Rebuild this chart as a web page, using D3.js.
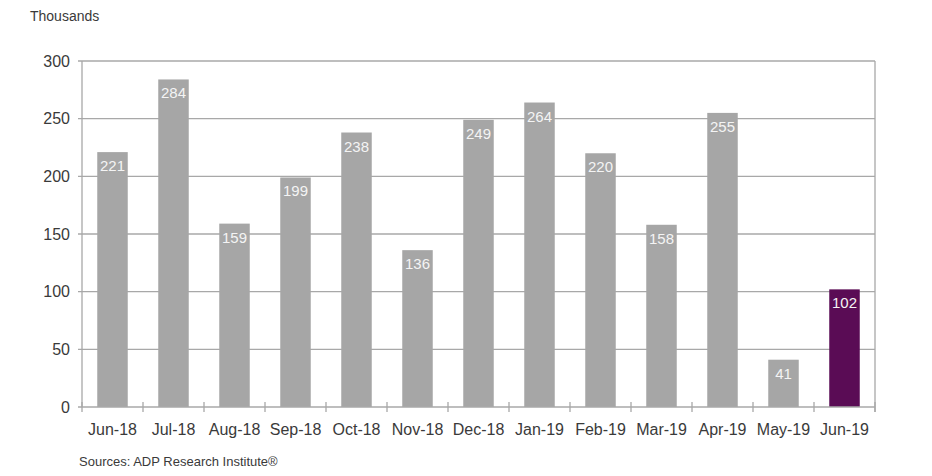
<!DOCTYPE html>
<html><head><meta charset="utf-8">
<script src="https://cdn.jsdelivr.net/npm/d3@7"></script>
<style>body{margin:0;background:#fff}svg{display:block;font-family:"Liberation Sans",Arial,sans-serif}</style>
</head><body><svg id="c" width="932" height="476"></svg>
<script>
const categories = ["Jun-18","Jul-18","Aug-18","Sep-18","Oct-18","Nov-18","Dec-18","Jan-19","Feb-19","Mar-19","Apr-19","May-19","Jun-19"];
const values = [221,284,159,199,238,136,249,264,220,158,255,41,102];
const yTicks = [0,50,100,150,200,250,300];

const svg = d3.select("#c");
const L = 82, R = 875, T = 61, B = 407;
const x = d3.scaleBand().domain(categories).range([L, R]).paddingInner(0.5).paddingOuter(0.25);
const y = d3.scaleLinear().domain([0, 300]).range([B, T]);
const gridC = "#a8a8a8", textC = "#3a3a3a";

// gridlines
svg.append("g").selectAll("line").data(yTicks.filter(d => d > 0)).join("line")
  .attr("x1", L - 4).attr("x2", R).attr("y1", d => y(d)).attr("y2", d => y(d))
  .attr("stroke", gridC).attr("stroke-width", 1.3);
// left axis line + ticks
svg.append("line").attr("x1", L).attr("x2", L).attr("y1", T).attr("y2", B).attr("stroke", gridC).attr("stroke-width", 1.3);
svg.append("line").attr("x1", R).attr("x2", R).attr("y1", T).attr("y2", B + 5).attr("stroke", gridC).attr("stroke-width", 1.3);
svg.append("g").selectAll("text").data(yTicks).join("text")
  .attr("x", 70).attr("y", d => y(d)).attr("dy", "0.35em").attr("text-anchor", "end")
  .attr("font-size", 16).attr("fill", textC).text(d => d);

// bars
svg.append("g").selectAll("rect").data(values).join("rect")
  .attr("x", (d, i) => x(categories[i])).attr("width", x.bandwidth())
  .attr("y", d => y(d)).attr("height", d => B - y(d))
  .attr("fill", (d, i) => i === values.length - 1 ? "#5a0c55" : "#a6a6a6");
svg.append("g").selectAll("text").data(values).join("text")
  .attr("x", (d, i) => x(categories[i]) + x.bandwidth() / 2).attr("y", d => y(d) + 19)
  .attr("text-anchor", "middle").attr("font-size", 15).attr("fill", "#f4f4f4").text(d => d);

// x axis
svg.append("line").attr("x1", L - 4).attr("x2", R).attr("y1", B).attr("y2", B).attr("stroke", gridC).attr("stroke-width", 1.3);
const step = x.step();
svg.append("g").selectAll("line").data(d3.range(categories.length + 1)).join("line")
  .attr("x1", i => L + i * step).attr("x2", i => L + i * step).attr("y1", B - 5).attr("y2", B + 5)
  .attr("stroke", gridC).attr("stroke-width", 1.3);
svg.append("g").selectAll("text").data(categories).join("text")
  .attr("x", d => x(d) + x.bandwidth() / 2).attr("y", 435).attr("text-anchor", "middle")
  .attr("font-size", 16).attr("fill", textC).text(d => d);

svg.append("text").attr("x", 30).attr("y", 21).attr("font-size", 14).attr("fill", textC).text("Thousands");
svg.append("text").attr("x", 79).attr("y", 466).attr("font-size", 13).attr("fill", textC).text("Sources: ADP Research Institute®");
</script></body></html>
